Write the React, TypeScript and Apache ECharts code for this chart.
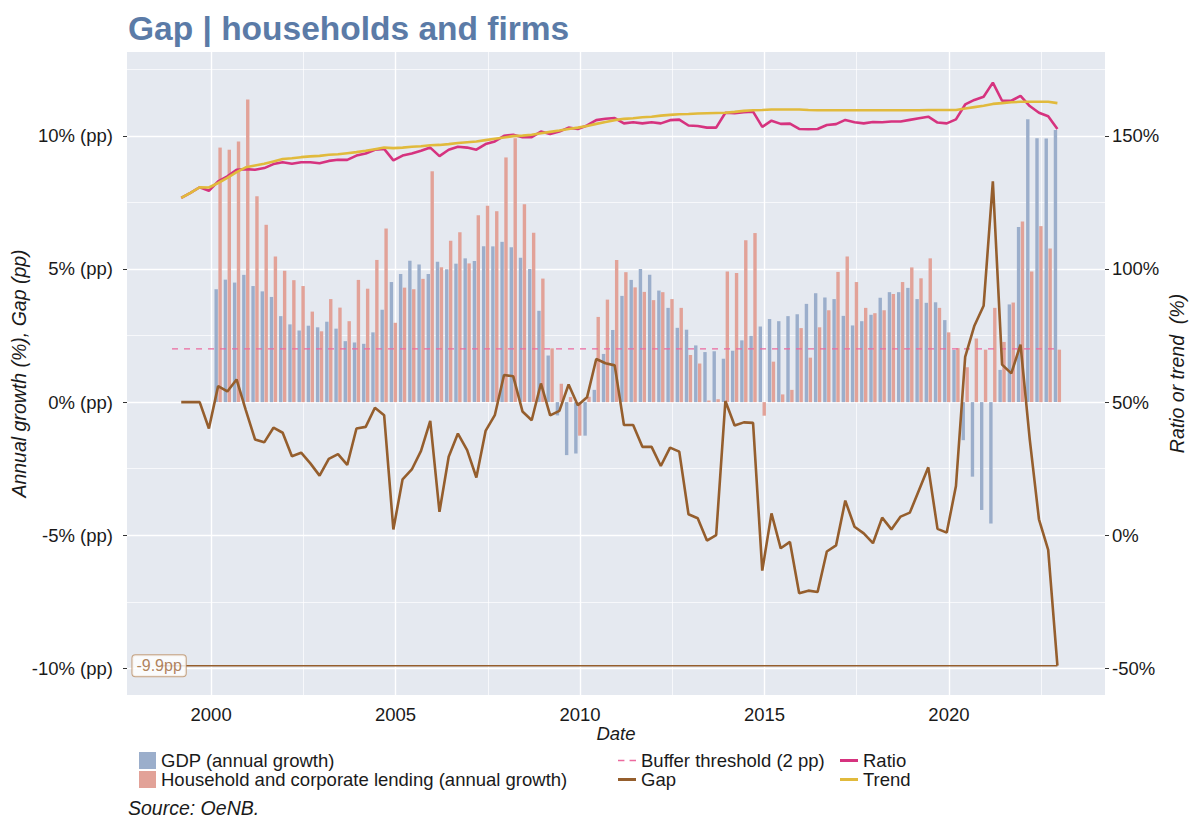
import { useEffect, useRef } from "react";
import * as echarts from "echarts";

// ---------- categories ----------
const YEARS = [1999, 2000, 2001, 2002, 2003, 2004, 2005, 2006, 2007, 2008, 2009, 2010, 2011, 2012, 2013, 2014, 2015, 2016, 2017, 2018, 2019, 2020, 2021, 2022];
const QUARTERS: string[] = YEARS.flatMap((y) => ["Q1", "Q2", "Q3", "Q4"].map((q) => `${y}${q}`));
const BAR_START = "2000Q1";
const THRESHOLD_START = "1998Q4";

// ---------- series values ----------
// Ratio (%), right axis
const ratio = [
  126.7, 128.6, 130.7, 129.4, 132.9, 134.8, 137.3, 137.5, 137.3, 137.9,
  139.4, 140.1, 139.5, 140.1, 140.1, 139.7, 140.6, 141.0, 141.0, 142.6,
  143.4, 144.8, 145.1, 140.8, 142.6, 143.4, 144.4, 145.6, 142.4, 144.8,
  145.9, 145.6, 144.8, 146.9, 147.9, 150.0, 150.4, 149.5, 149.5, 151.6,
  150.7, 151.6, 153.1, 152.6, 153.9, 155.9, 156.4, 156.7, 154.7, 155.1,
  154.7, 155.1, 154.7, 155.9, 156.1, 153.9, 153.7, 153.1, 153.1, 158.7,
  158.5, 158.9, 159.1, 153.4, 155.7, 154.5, 154.6, 152.6, 152.5, 152.6,
  154.1, 154.4, 156.0, 155.1, 154.7, 155.2, 155.1, 155.4, 155.4, 156.0,
  156.6, 157.2, 155.0, 154.7, 156.2, 161.8, 163.5, 164.7, 170.0, 163.2,
  163.2, 165.0, 161.2, 158.7, 157.4, 152.6,
];
// Trend (%), right axis
const trend = [
  126.7, 128.6, 130.7, 130.6, 132.3, 134.2, 136.4, 138.2, 138.9, 139.5,
  140.4, 141.3, 141.6, 142.0, 142.3, 142.5, 142.9, 143.1, 143.5, 143.9,
  144.4, 145.0, 145.6, 145.4, 145.6, 145.9, 146.1, 146.5, 146.6, 146.9,
  147.3, 147.6, 147.9, 148.4, 148.9, 149.4, 149.9, 150.1, 150.4, 151.0,
  151.5, 152.0, 152.6, 153.1, 153.7, 154.5, 155.2, 155.9, 156.4, 156.6,
  157.0, 157.2, 157.6, 157.9, 158.1, 158.2, 158.4, 158.5, 158.6, 158.7,
  159.0, 159.4, 159.6, 159.7, 159.9, 159.9, 159.9, 159.9, 159.7, 159.6,
  159.6, 159.6, 159.6, 159.6, 159.6, 159.6, 159.6, 159.6, 159.6, 159.6,
  159.6, 159.7, 159.7, 159.7, 159.7, 160.3, 160.8, 161.3, 162.0, 162.3,
  162.6, 162.8, 162.8, 162.8, 162.8, 162.3,
];
// Gap (pp), left axis
const gap = [
  0, 0, 0, -0.99, 0.6, 0.4, 0.85, -0.3, -1.4, -1.51,
  -0.96, -1.15, -2.03, -1.9, -2.3, -2.76, -2.13, -1.95, -2.36, -0.99,
  -0.93, -0.21, -0.49, -4.78, -2.9, -2.53, -1.83, -0.7, -4.12, -2.05,
  -1.18, -1.8, -2.83, -1.08, -0.49, 1.02, 0.97, -0.35, -0.68, 0.7,
  -0.5, -0.33, 0.66, -0.12, 0.18, 1.62, 1.46, 1.38, -0.86, -0.86,
  -1.68, -1.68, -2.4, -1.71, -1.86, -4.21, -4.36, -5.2, -5.0, 0.04,
  -0.88, -0.76, -0.78, -6.33, -4.18, -5.49, -5.25, -7.18, -7.08, -7.13,
  -5.61, -5.38, -3.7, -4.68, -4.93, -5.3, -4.34, -4.78, -4.3, -4.15,
  -3.3, -2.45, -4.76, -4.9, -3.15, 1.7, 2.87, 3.62, 8.29, 1.41,
  1.08, 2.16, -1.4, -4.4, -5.55, -9.9,
];
// GDP (annual growth, %), from 2000Q1
const gdpGrowth = [
  4.24, 4.6, 4.49, 4.78, 4.36, 4.16, 3.95, 3.23, 2.92, 2.69,
  2.87, 2.81, 3.02, 2.76, 2.29, 2.24, 2.19, 2.62, 3.47, 4.51,
  4.81, 5.31, 5.17, 4.81, 5.27, 4.99, 5.2, 5.4, 5.3, 5.85,
  5.85, 6.02, 5.82, 5.42, 5.0, 3.43, 1.75, -0.5, -1.99, -1.93,
  -1.26, 0.46, 1.81, 2.71, 3.99, 4.59, 5.0, 4.78, 4.19, 3.54,
  2.79, 2.72, 2.13, 1.88, 1.91, 1.63, 1.93, 2.32, 2.49, 2.84,
  3.12, 3.04, 3.23, 3.3, 3.69, 4.09, 3.93, 3.87, 3.24, 2.88,
  3.04, 3.28, 3.92, 4.13, 4.13, 4.29, 3.87, 3.73, 3.75, 3.08,
  1.96, -1.43, -2.8, -4.05, -4.56, 1.21, 3.67, 6.58, 10.62, 9.91,
  9.9, 10.22,
];
// Household and corporate lending (annual growth, %), from 2000Q1
const lendingGrowth = [
  9.56, 9.48, 9.79, 11.37, 7.73, 6.66, 5.47, 4.93, 4.58, 4.36,
  3.4, 2.66, 3.87, 3.55, 3.04, 4.59, 4.26, 5.34, 6.52, 2.98,
  4.3, 4.24, 4.63, 8.67, 5.07, 6.06, 6.38, 5.21, 7.02, 7.38,
  7.17, 9.19, 9.91, 7.43, 6.36, 4.64, 2.02, 0.69, 0.19, -1.26,
  0.2, 3.2, 3.85, 5.34, 4.88, 4.31, 4.14, 3.83, 4.13, 3.87,
  3.54, 1.77, 1.45, 0.06, 0.11, 4.91, 4.85, 6.08, 6.35, -0.51,
  1.52, 0.29, 0.46, 2.78, 1.67, 2.81, 3.45, 4.89, 5.47, 4.51,
  3.54, 3.34, 3.45, 4.06, 4.51, 5.06, 4.65, 5.4, 3.54, 2.62,
  2.03, 1.31, 2.39, 1.97, 3.54, 2.26, 3.74, 6.78, 4.91, 6.61,
  5.77, 1.97,
];
const bufferThreshold = 2;

// ---------- ticks ----------
const leftTicks = [-10, -5, 0, 5, 10];
const leftMinor = [-7.5, -2.5, 2.5, 7.5, 12.5];
const rightTicks = [-50, 0, 50, 100, 150];
const xTicks = [2000, 2005, 2010, 2015, 2020];
const xMinor = [2002.5, 2007.5, 2012.5, 2017.5, 2022.5];

// ---------- layout / style ----------
const FONT = "'Liberation Sans', Arial, sans-serif";
const INK = "#1a1a1a";
const LEFT_MIN = -11;
const LEFT_MAX = 13.15;
const toRight = (v: number) => v * 10 + 50;
const X_MIN = 1997.72;
const X_MAX = 2024.23;
const LABEL_X = 1998.59;
const BAR_W = 3.4;
const BAR_GAP = 0.5;

const qToYear = (q: string) => Number(q.slice(0, 4)) + (Number(q.slice(5)) - 1) / 4 + 0.19;
const dates = QUARTERS.map(qToYear);
const barOffset = QUARTERS.indexOf(BAR_START);

const C_GDP = "#9BAECB";
const C_LEND = "#E2A298";
const C_RATIO = "#D6337F";
const C_TREND = "#E1BA3C";
const C_GAP = "#955E2D";
const C_BUF = "#EC6A9E";

const makeBarRender = (side: number) => (_params: any, api: any) => {
  const x = api.value(0);
  const y = api.value(1);
  const base = api.coord([x, 0]);
  const top = api.coord([x, y]);
  const left = side < 0 ? base[0] - BAR_GAP / 2 - BAR_W : base[0] + BAR_GAP / 2;
  return {
    type: "rect",
    shape: { x: left, y: Math.min(base[1], top[1]), width: BAR_W, height: Math.abs(top[1] - base[1]) },
    style: { fill: api.visual("color") },
  };
};

function buildOption(): any {
  const gridLines: any[] = [
    ...leftTicks.map((v) => ({ yAxis: v, lineStyle: { color: "#ffffff", width: 1.4, type: "solid" } })),
    ...leftMinor.map((v) => ({ yAxis: v, lineStyle: { color: "#ffffff", width: 0.7, type: "solid" } })),
    ...xTicks.map((v) => ({ xAxis: v, lineStyle: { color: "#ffffff", width: 1.4, type: "solid" } })),
    ...xMinor.map((v) => ({ xAxis: v, lineStyle: { color: "#ffffff", width: 0.7, type: "solid" } })),
  ];
  const gapLast = gap[gap.length - 1];
  const lastDate = dates[dates.length - 1];
  const legendText = { fontSize: 18.5, color: INK, fontFamily: FONT };
  const lineIcon = "rect";
  const dashIcon = "path://M0,0h5v1h-5zM9,0h5v1h-5z";
  const legendBase = {
    orient: "vertical",
    top: 746,
    itemGap: 0,
    selectedMode: false,
    textStyle: legendText,
  };
  return {
    animation: false,
    textStyle: { fontFamily: FONT },
    title: {
      text: "Gap | households and firms",
      left: 123,
      top: 6,
      textStyle: { fontSize: 33.5, fontWeight: "bold", color: "#5B7BA7", fontFamily: FONT },
    },
    grid: {
      left: 127,
      top: 52,
      width: 978,
      height: 643,
      containLabel: false,
      outerBoundsMode: "none",
      show: true,
      backgroundColor: "#E5E9F0",
      borderWidth: 0,
    },
    legend: [
      {
        ...legendBase,
        data: [
          { name: "GDP (annual growth)", icon: "rect" },
          { name: "Household and corporate lending (annual growth)", icon: "rect" },
        ],
        left: 134,
        itemWidth: 17,
        itemHeight: 17,
      },
      {
        ...legendBase,
        data: [
          { name: "Buffer threshold (2 pp)", icon: dashIcon },
          { name: "Gap", icon: lineIcon },
        ],
        left: 613,
        itemWidth: 18,
        itemHeight: 3,
      },
      {
        ...legendBase,
        data: [
          { name: "Ratio", icon: lineIcon },
          { name: "Trend", icon: lineIcon },
        ],
        left: 835,
        itemWidth: 18,
        itemHeight: 3,
      },
    ],
    xAxis: {
      type: "value",
      min: X_MIN,
      max: X_MAX,
      name: "Date",
      nameLocation: "middle",
      nameGap: 29,
      nameMoveOverlap: false,
      nameTextStyle: { fontStyle: "italic", fontSize: 18.5, color: INK, fontFamily: FONT },
      axisLine: { show: false },
      axisTick: { show: true, length: 4, lineStyle: { color: "#333" }, customValues: xTicks },
      axisLabel: { customValues: xTicks, fontSize: 18.5, color: INK, margin: 10, formatter: (v: number) => String(v) },
      splitLine: { show: false },
    },
    yAxis: [
      {
        type: "value",
        min: LEFT_MIN,
        max: LEFT_MAX,
        name: "Annual growth (%), Gap (pp)",
        nameLocation: "middle",
        nameGap: 98,
        nameMoveOverlap: false,
        nameTextStyle: { fontStyle: "italic", fontSize: 19.5, color: INK, fontFamily: FONT },
        axisLine: { show: false },
        axisTick: { show: true, length: 4, lineStyle: { color: "#333" }, customValues: leftTicks },
        axisLabel: { customValues: leftTicks, fontSize: 18.5, color: INK, margin: 14, formatter: (v: number) => `${v}% (pp)` },
        splitLine: { show: false },
      },
      {
        type: "value",
        min: toRight(LEFT_MIN),
        max: toRight(LEFT_MAX),
        position: "right",
        name: "Ratio or trend  (%)",
        nameLocation: "middle",
        nameGap: 62,
        nameMoveOverlap: false,
        nameTextStyle: { fontStyle: "italic", fontSize: 19.5, color: INK, fontFamily: FONT },
        axisLine: { show: false },
        axisTick: { show: true, length: 4, lineStyle: { color: "#333" }, customValues: rightTicks },
        axisLabel: { customValues: rightTicks, fontSize: 18.5, color: INK, margin: 7, formatter: (v: number) => `${v}%` },
        splitLine: { show: false },
      },
    ],
    graphic: [
      {
        type: "text",
        left: 128,
        top: 798,
        style: { text: "Source: OeNB.", fontSize: 19.5, fontStyle: "italic", fontFamily: FONT, fill: INK },
      },
    ],
    series: [
      {
        type: "line",
        name: "__grid",
        data: [],
        z: 1,
        silent: true,
        markLine: { silent: true, z: 1, symbol: ["none", "none"], label: { show: false }, animation: false, data: gridLines },
      },
      {
        type: "custom",
        name: "GDP (annual growth)",
        data: gdpGrowth.map((v, k) => [dates[barOffset + k], v]),
        encode: { x: 0, y: 1 },
        renderItem: makeBarRender(-1),
        itemStyle: { color: C_GDP },
        z: 2,
        silent: true,
      },
      {
        type: "custom",
        name: "Household and corporate lending (annual growth)",
        data: lendingGrowth.map((v, k) => [dates[barOffset + k], v]),
        encode: { x: 0, y: 1 },
        renderItem: makeBarRender(1),
        itemStyle: { color: C_LEND },
        z: 2,
        silent: true,
      },
      {
        type: "line",
        name: "Buffer threshold (2 pp)",
        data: [[qToYear(THRESHOLD_START), bufferThreshold], [lastDate, bufferThreshold]],
        symbol: "none",
        lineStyle: { color: C_BUF, width: 1.1, type: [6, 6] },
        itemStyle: { color: C_BUF },
        z: 3,
        silent: true,
      },
      {
        type: "line",
        name: "Ratio",
        yAxisIndex: 1,
        data: ratio.map((v, k) => [dates[k], v]),
        symbol: "none",
        lineStyle: { color: C_RATIO, width: 2.6 },
        itemStyle: { color: C_RATIO },
        z: 4,
        silent: true,
      },
      {
        type: "line",
        name: "Trend",
        yAxisIndex: 1,
        data: trend.map((v, k) => [dates[k], v]),
        symbol: "none",
        lineStyle: { color: C_TREND, width: 2.6 },
        itemStyle: { color: C_TREND },
        z: 5,
        silent: true,
      },
      {
        type: "line",
        name: "__lastGap",
        data: [[LABEL_X, gapLast], [lastDate, gapLast]],
        symbol: "none",
        lineStyle: { color: C_GAP, width: 1.6 },
        z: 6,
        silent: true,
      },
      {
        type: "line",
        name: "Gap",
        data: gap.map((v, k) => [dates[k], v]),
        symbol: "none",
        lineStyle: { color: C_GAP, width: 2.6 },
        itemStyle: { color: C_GAP },
        z: 6,
        silent: true,
      },
      {
        type: "scatter",
        name: "__label",
        data: [[LABEL_X, gapLast]],
        symbolSize: 0.1,
        z: 8,
        silent: true,
        label: {
          show: true,
          position: "inside",
          formatter: (p: any) => `${p.value[1]}pp`,
          fontSize: 16,
          color: "#9C6433",
          fontFamily: FONT,
          backgroundColor: "#ffffff",
          borderColor: "#BC9066",
          borderWidth: 1,
          borderRadius: 3,
          padding: [3, 4, 2, 4],
        },
      },
    ],
  };
}

export default function App() {
  const ref = useRef<HTMLDivElement>(null);
  useEffect(() => {
    document.body.style.margin = "0";
    const chart = echarts.init(ref.current as HTMLDivElement, undefined, { renderer: "svg" });
    chart.setOption(buildOption());
    return () => chart.dispose();
  }, []);
  return <div ref={ref} style={{ width: 1195, height: 820 }} />;
}
